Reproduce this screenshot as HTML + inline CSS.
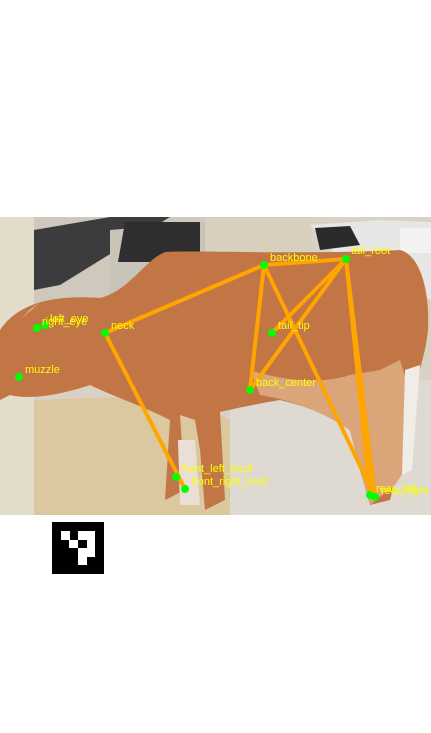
<!DOCTYPE html>
<html><head><meta charset="utf-8"><style>
html,body{margin:0;padding:0;background:#fff;width:431px;height:733px;overflow:hidden}
svg{display:block}
text{font-family:"Liberation Sans",sans-serif;font-size:11px;fill:#ffff00}
</style></head><body>
<svg width="431" height="733" viewBox="0 0 431 733">
<g>
  <rect x="0" y="217" width="431" height="298" fill="#d9d2c4"/>
  <rect x="34" y="217" width="180" height="90" fill="#cfc9bd"/>
  <polygon points="34,230 110,217 170,217 60,285 34,290" fill="#3c3c3e"/>
  <polygon points="110,230 205,222 205,300 110,305" fill="#c9c4b8"/>
  <polygon points="125,222 200,222 200,262 118,262" fill="#2e2e30"/>
  <rect x="205" y="217" width="105" height="40" fill="#d8d0bc"/>
  <polygon points="310,225 380,220 431,222 431,300 340,260" fill="#e6e6e4"/>
  <polygon points="315,228 350,226 360,245 320,250" fill="#2a2a2c"/>
  <rect x="400" y="228" width="31" height="25" fill="#f2f2f2"/>
  <rect x="0" y="217" width="34" height="298" fill="#e2dccb"/>
  <polygon points="34,400 180,395 230,420 230,515 34,515" fill="#dcc89e"/>
  <polygon points="230,400 431,380 431,515 230,515" fill="#dedad2"/>
  <path d="M0,330 C20,300 60,295 100,298 C130,290 145,260 165,252 C200,250 300,255 400,250 C420,255 430,290 428,330 C425,360 415,380 412,400 L405,470 L395,480 L390,500 L370,505 L360,470 L350,430 C320,410 300,405 280,400 C250,405 230,410 220,412 L225,500 L205,510 L200,450 L195,420 L180,415 L185,490 L165,500 L170,420 C140,405 110,395 90,385 C60,395 30,400 10,395 L0,400 Z" fill="#c27645"/>
  <path d="M250,370 C280,380 320,385 350,375 L380,370 L400,360 L412,400 L405,470 L395,485 L370,505 L360,470 L350,430 C320,410 290,400 260,395 Z" fill="#dba57a"/>
  <polygon points="405,370 420,365 412,470 402,475" fill="#f0ece6"/>
  <polygon points="178,440 195,440 200,505 180,505" fill="#eadfd6"/>
  <path d="M30,310 L40,302 L22,318 Z" fill="#f4f0ea"/>
</g>
<g stroke="#ffa500" stroke-width="4" stroke-linecap="round">
  <line x1="105" y1="333" x2="264" y2="265"/>
  <line x1="105" y1="333" x2="185" y2="489"/>
  <line x1="264" y1="265" x2="346" y2="259"/>
  <line x1="264" y1="265" x2="250" y2="390"/>
  <line x1="264" y1="265" x2="375" y2="497"/>
  <line x1="346" y1="259" x2="272" y2="333"/>
  <line x1="346" y1="259" x2="250" y2="390"/>
  <line x1="346" y1="259" x2="375" y2="497"/>
  <line x1="346" y1="259" x2="370" y2="495"/>
</g>
<g fill="#00ff00">
  <circle cx="45" cy="325" r="4"/><circle cx="37" cy="328" r="4"/>
  <circle cx="105" cy="333" r="4"/><circle cx="19" cy="377" r="4"/>
  <circle cx="264" cy="265" r="4"/><circle cx="346" cy="259" r="4"/>
  <circle cx="272" cy="333" r="4"/><circle cx="250" cy="390" r="4"/>
  <circle cx="176" cy="477" r="4"/><circle cx="185" cy="489" r="4"/>
  <circle cx="375" cy="497" r="4"/><circle cx="370" cy="495" r="4"/>
</g>
<g>
  <text x="50" y="322">left_eye</text>
  <text x="42" y="325">right_eye</text>
  <text x="111" y="329">neck</text>
  <text x="25" y="373">muzzle</text>
  <text x="270" y="261">backbone</text>
  <text x="351" y="254">tail_root</text>
  <text x="278" y="329">tail_tip</text>
  <text x="256" y="386">back_center</text>
  <text x="182" y="472">front_left_hoof</text>
  <text x="191" y="485">front_right_hoof</text>
  <text x="376" y="492">rear_left</text>
  <text x="381" y="494">rear_right</text>
</g>
<g>
  <rect x="52" y="522" width="52" height="52" fill="#000"/>
  <g fill="#fff">
    <rect x="61" y="531" width="9" height="9"/>
    <rect x="78" y="531" width="17" height="9"/>
    <rect x="69" y="540" width="9" height="8"/>
    <rect x="87" y="540" width="8" height="8"/>
    <rect x="78" y="548" width="17" height="9"/>
    <rect x="78" y="557" width="9" height="8"/>
  </g>
</g>
</svg>
</body></html>
